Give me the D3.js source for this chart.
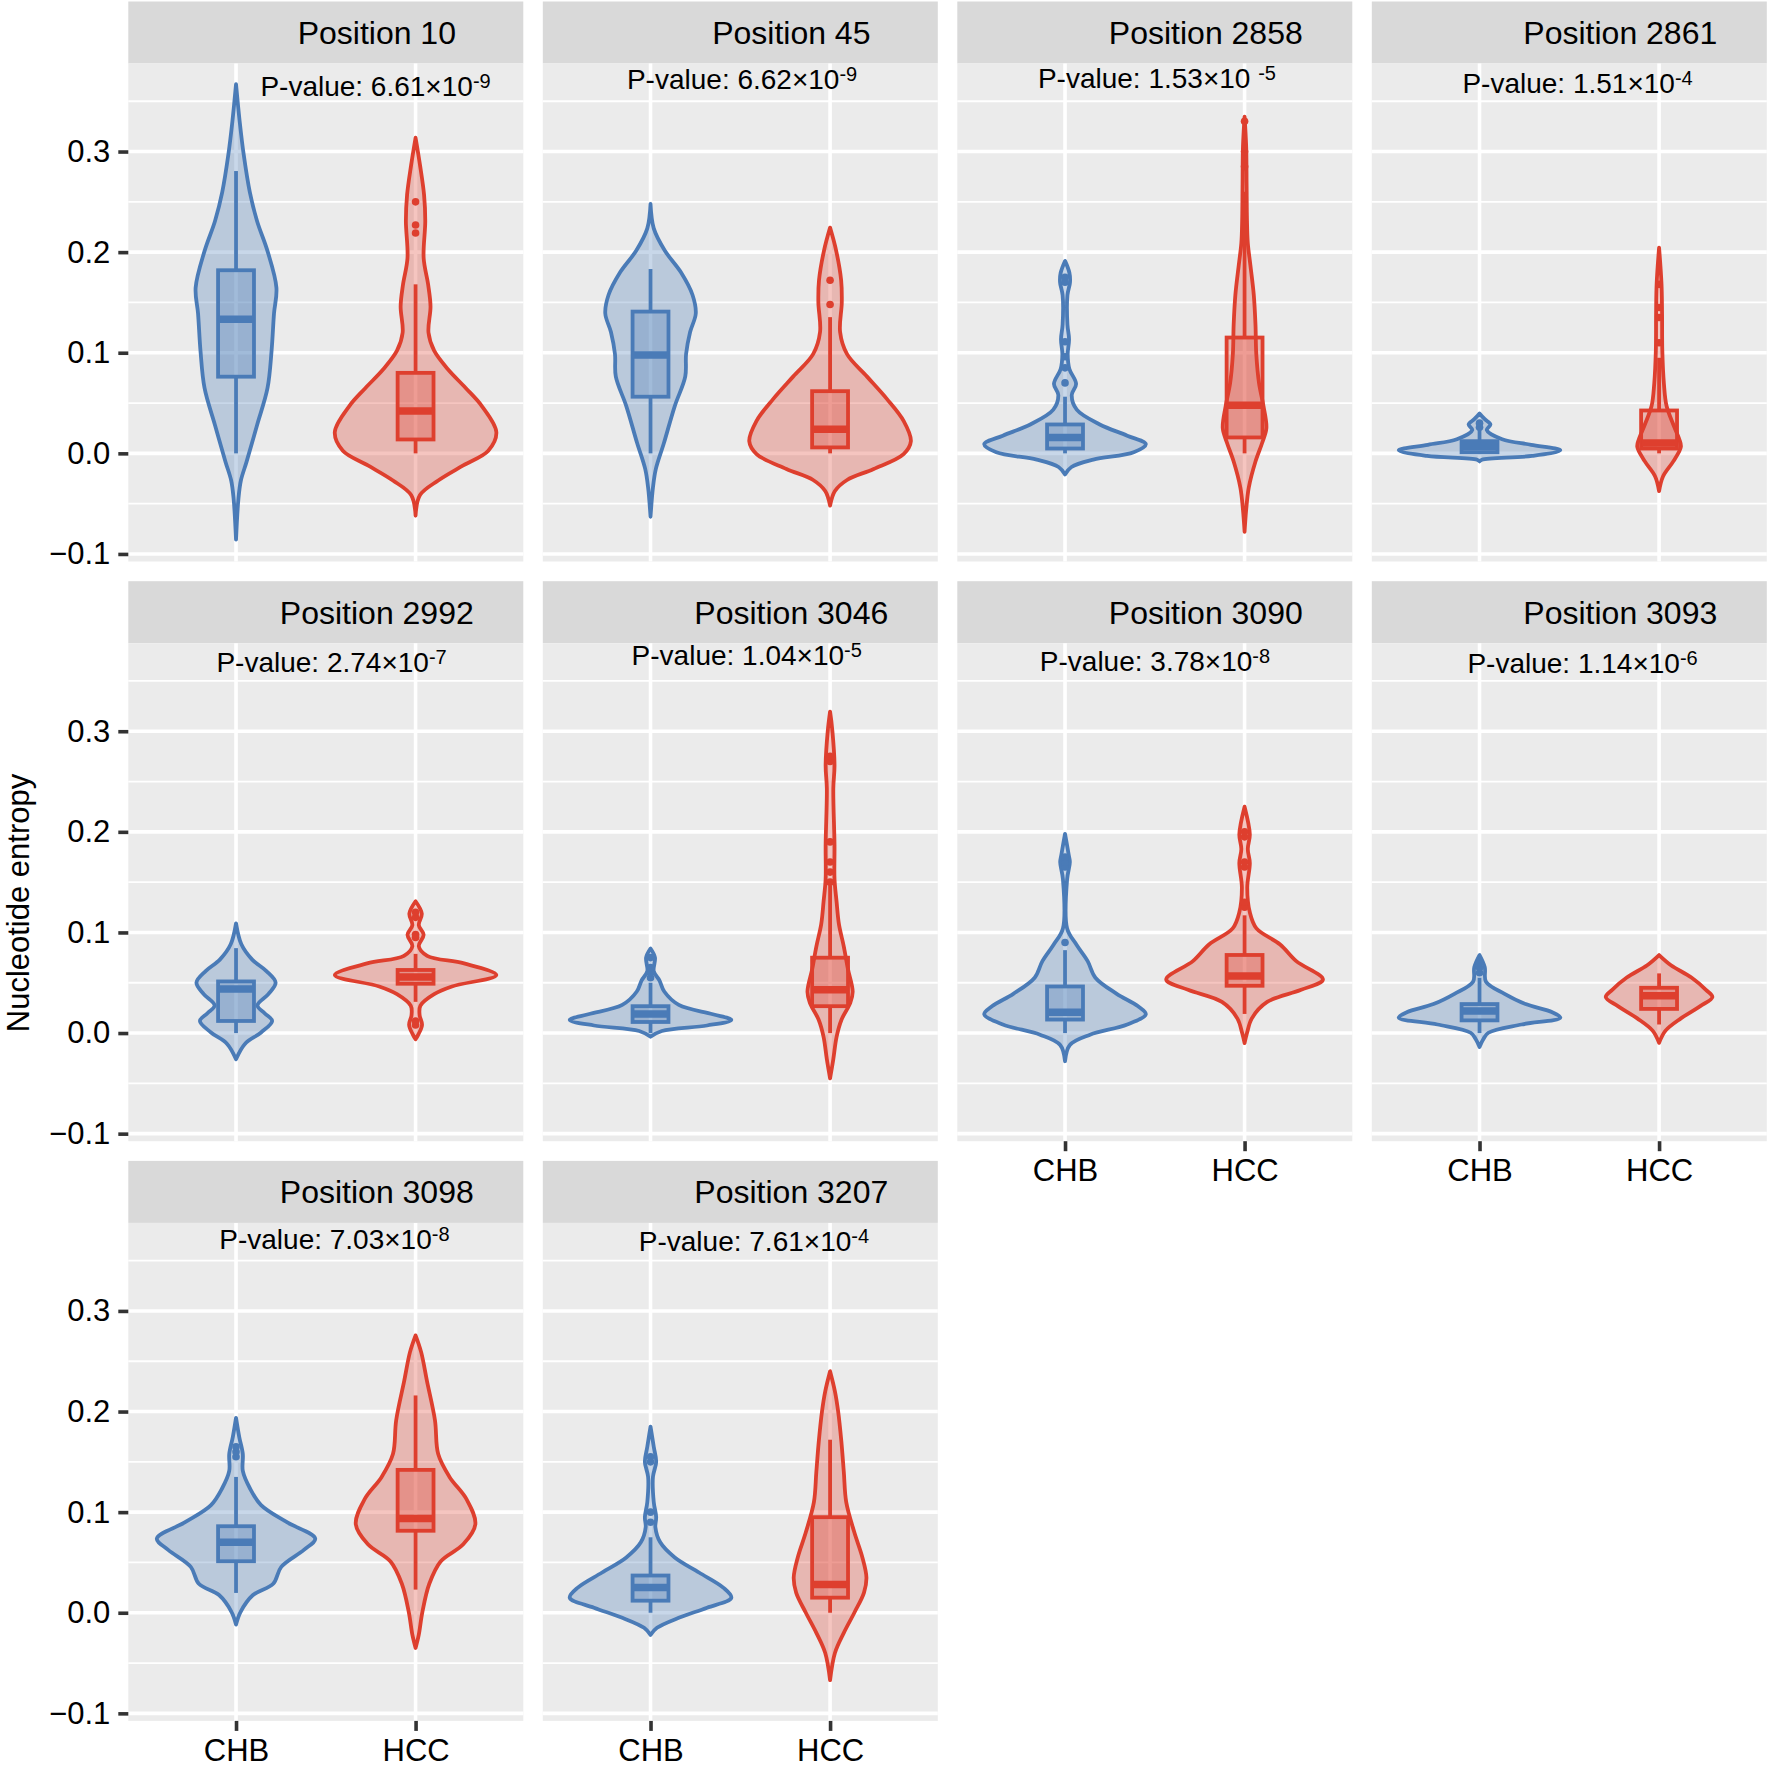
<!DOCTYPE html>
<html>
<head>
<meta charset="utf-8">
<script src="https://cdn.jsdelivr.net/npm/d3@7"></script>
<style>
body { margin: 0; background: #fff; }
svg { display: block; }
text { font-family: "Liberation Sans", Arial, Helvetica, sans-serif; fill: #000; }
</style>
</head>
<body>
<div id="chart"></div>
<script>
// facet labels and the annotated p-values
var positions = ["Position 10", "Position 45", "Position 2858", "Position 2861", "Position 2992",
                 "Position 3046", "Position 3090", "Position 3093", "Position 3098", "Position 3207"];
var pMantissa = ["6.61×10", "6.62×10", "1.53×10 ", "1.51×10", "2.74×10",
                 "1.04×10", "3.78×10", "1.14×10", "7.03×10", "7.61×10"];
var pExponent = ["-9", "-9", "-5", "-4", "-7", "-5", "-8", "-6", "-8", "-4"];
// where each p-value label sits, in data units (x: 1 = CHB, 2 = HCC)
var pLabelX = [1.777, 1.51, 1.512, 1.546, 1.532, 1.536, 1.501, 1.574, 1.548, 1.576];
var pLabelY = [0.355, 0.362, 0.3635, 0.358, 0.3586, 0.3655, 0.360, 0.358, 0.362, 0.360];

var groups = ["CHB", "HCC"];
var yMajor = [-0.1, 0, 0.1, 0.2, 0.3];
var yMinor = [-0.05, 0.05, 0.15, 0.25, 0.35];

// violin outlines: [entropy, relative half width]
var violinCHB = [
  [[-0.0857,0],[-0.045,0.03],[-0.027,0.06],[-0.0085,0.13],[0.028,0.26],[0.065,0.39],[0.102,0.44],[0.139,0.47],[0.1646,0.50],[0.201,0.39],[0.231,0.26],[0.260,0.17],[0.297,0.095],[0.330,0.045],[0.367,0]],
  [[-0.063,0],[-0.034,0.03],[-0.0155,0.066],[0.0103,0.166],[0.047,0.30],[0.0765,0.43],[0.0986,0.44],[0.1206,0.49],[0.139,0.56],[0.1574,0.52],[0.1795,0.38],[0.2016,0.176],[0.2236,0.04],[0.248,0]],
  [[-0.021,0],[-0.0136,0.08],[-0.0063,0.35],[0.0011,0.85],[0.0092,1.0],[0.0176,0.77],[0.0287,0.43],[0.0434,0.145],[0.058,0.083],[0.0691,0.137],[0.0839,0.054],[0.0986,0.033],[0.1133,0.05],[0.128,0.03],[0.1574,0.03],[0.1703,0.062],[0.1795,0.054],[0.1913,0]],
  [[-0.008,0],[-0.0063,0.03],[-0.0026,0.65],[0.003,1.0],[0.0085,0.64],[0.014,0.28],[0.0232,0.09],[0.0287,0.135],[0.0342,0.062],[0.0397,0]],
  [[-0.026,0],[-0.0108,0.11],[0.0006,0.31],[0.012,0.447],[0.0197,0.354],[0.0273,0.265],[0.0387,0.40],[0.0501,0.49],[0.0616,0.376],[0.073,0.2],[0.0882,0.066],[0.109,0]],
  [[-0.0037,0],[0.002,0.14],[0.0075,0.7],[0.013,1.0],[0.0187,0.77],[0.028,0.35],[0.0413,0.17],[0.0524,0.11],[0.0614,0.04],[0.075,0.055],[0.084,0]],
  [[-0.028,0],[-0.0118,0.06],[-0.0016,0.31],[0.0085,0.77],[0.0187,1.0],[0.0268,0.90],[0.039,0.64],[0.055,0.376],[0.0715,0.28],[0.088,0.14],[0.104,0.026],[0.153,0.026],[0.170,0.06],[0.177,0.046],[0.198,0]],
  [[-0.0138,0],[-0.0057,0.05],[0.0003,0.11],[0.0085,0.52],[0.0154,1.0],[0.0207,0.90],[0.0288,0.57],[0.039,0.31],[0.051,0.08],[0.0654,0.065],[0.0775,0]],
  [[-0.0118,0],[0.0007,0.055],[0.0176,0.21],[0.0288,0.46],[0.0456,0.56],[0.0625,0.84],[0.0737,0.98],[0.090,0.63],[0.107,0.31],[0.124,0.17],[0.141,0.084],[0.1578,0.084],[0.1746,0.04],[0.1937,0]],
  [[-0.022,0],[-0.015,0.08],[-0.005,0.35],[0.005,0.7],[0.015,1.0],[0.025,0.9],[0.04,0.6],[0.055,0.3],[0.07,0.12],[0.085,0.06],[0.095,0.07],[0.11,0.04],[0.135,0.03],[0.15,0.07],[0.165,0.04],[0.185,0]]
];
var violinHCC = [
  [[-0.062,0],[-0.0415,0.055],[-0.027,0.28],[-0.012,0.59],[0.0026,0.9],[0.021,1.0],[0.047,0.82],[0.065,0.62],[0.0836,0.40],[0.102,0.23],[0.120,0.16],[0.146,0.185],[0.168,0.155],[0.194,0.10],[0.231,0.12],[0.257,0.105],[0.286,0.056],[0.3137,0]],
  [[-0.052,0],[-0.0375,0.06],[-0.0265,0.21],[-0.0155,0.54],[-0.0007,0.91],[0.012,1.0],[0.0323,0.91],[0.0544,0.70],[0.0765,0.455],[0.0986,0.21],[0.1206,0.124],[0.150,0.145],[0.172,0.137],[0.2016,0.075],[0.2244,0]],
  [[-0.078,0],[-0.0559,0.02],[-0.034,0.052],[-0.0081,0.135],[0.0103,0.217],[0.025,0.27],[0.047,0.234],[0.0691,0.18],[0.0986,0.145],[0.128,0.135],[0.1574,0.114],[0.187,0.072],[0.209,0.04],[0.231,0.03],[0.2678,0.025],[0.3046,0.02],[0.3347,0]],
  [[-0.0375,0],[-0.0228,0.05],[-0.008,0.176],[0.0066,0.27],[0.014,0.25],[0.0287,0.176],[0.047,0.093],[0.0691,0.06],[0.1022,0.04],[0.139,0.037],[0.1685,0.03],[0.2045,0]],
  [[-0.0062,0],[-0.0013,0.035],[0.0082,0.08],[0.0178,0.05],[0.0273,0.06],[0.0387,0.23],[0.0463,0.45],[0.0577,1.0],[0.0692,0.6],[0.0768,0.144],[0.0863,0.04],[0.0977,0.1],[0.1072,0.04],[0.1187,0.077],[0.131,0]],
  [[-0.045,0],[-0.026,0.04],[-0.004,0.08],[0.013,0.14],[0.030,0.25],[0.041,0.28],[0.064,0.22],[0.086,0.17],[0.108,0.11],[0.131,0.08],[0.153,0.055],[0.187,0.055],[0.243,0.04],[0.266,0.055],[0.299,0.03],[0.3195,0]],
  [[-0.01,0],[0.0,0.03],[0.0146,0.09],[0.0309,0.28],[0.043,0.70],[0.0532,0.97],[0.0715,0.64],[0.088,0.44],[0.104,0.147],[0.120,0.065],[0.1446,0.033],[0.169,0.065],[0.183,0.04],[0.1974,0.065],[0.225,0]],
  [[-0.0098,0],[0.0024,0.08],[0.0146,0.27],[0.0268,0.51],[0.0357,0.66],[0.043,0.58],[0.0552,0.40],[0.0674,0.147],[0.0775,0]],
  [[-0.035,0],[-0.0218,0.04],[0.0007,0.084],[0.0288,0.17],[0.051,0.31],[0.068,0.59],[0.088,0.74],[0.1129,0.63],[0.135,0.42],[0.1577,0.28],[0.1914,0.24],[0.2307,0.14],[0.2588,0.07],[0.2757,0]],
  [[-0.067,0],[-0.04,0.06],[-0.02,0.17],[0.0,0.3],[0.02,0.42],[0.035,0.45],[0.055,0.4],[0.08,0.3],[0.11,0.2],[0.14,0.17],[0.17,0.14],[0.2,0.1],[0.22,0.06],[0.24,0]]
];

// boxplot stats: [lower whisker, q1, median, q3, upper whisker]
var boxCHB = [
  [0.0, 0.0762, 0.1333, 0.182, 0.2806],
  [0.0, 0.0563, 0.0978, 0.1409, 0.1832],
  [0.0, 0.0048, 0.0158, 0.0287, 0.0563],
  [0.0, 0.0011, 0.0066, 0.0121, 0.0232],
  [0.0, 0.012, 0.0437, 0.0513, 0.0844],
  [0.0, 0.011, 0.019, 0.0267, 0.05],
  [0.0, 0.0134, 0.0207, 0.0463, 0.0824],
  [0.0, 0.0126, 0.022, 0.0288, 0.055],
  [0.0197, 0.0512, 0.070, 0.086, 0.135],
  [0.0, 0.012, 0.025, 0.037, 0.075]
];
var boxHCC = [
  [0.0, 0.0138, 0.042, 0.080, 0.168],
  [0.0, 0.0059, 0.0239, 0.0618, 0.1354],
  [0.0, 0.0158, 0.0478, 0.1151, 0.26],
  [0.0, 0.0048, 0.0103, 0.0426, 0.095],
  [0.031, 0.049, 0.0558, 0.0627, 0.0787],
  [0.0, 0.0267, 0.043, 0.0749, 0.147],
  [0.019, 0.047, 0.0567, 0.0776, 0.117],
  [0.0085, 0.024, 0.037, 0.045, 0.0593],
  [0.023, 0.0815, 0.0938, 0.142, 0.216],
  [0.0, 0.015, 0.028, 0.095, 0.172]
];
var outliersCHB = [[], [], [0.070, 0.085, 0.096, 0.111, 0.17, 0.175], [0.026, 0.03], [],
  [0.055, 0.06, 0.065, 0.075], [0.09, 0.165, 0.17, 0.175], [0.06, 0.065, 0.07], [0.155, 0.16, 0.165], [0.09, 0.1, 0.15, 0.155]];
var outliersHCC = [[0.250, 0.227, 0.219], [0.172, 0.148], [0.285, 0.30, 0.33], [0.11, 0.135, 0.145, 0.168],
  [0.008, 0.012, 0.095, 0.098, 0.115, 0.12], [0.15, 0.16, 0.17, 0.19, 0.27, 0.275],
  [0.125, 0.13, 0.165, 0.17, 0.195, 0.2], [], [], []];

var colours = { CHB: "#4A7BB7", HCC: "#DE3F2E" };

var width = 1768, height = 1768;
var margin = { left: 128.3, top: 1.5 };
var panelW = 395, gapX = 19.5, stripH = 62, panelH = 498, rowStep = 579.7;

var svg = d3.select("#chart").append("svg")
    .attr("width", width)
    .attr("height", height);

var x = d3.scalePoint().domain(groups).range([0, panelW]).padding(0.6);
var xLin = d3.scaleLinear().domain([0.4, 2.6]).range([0, panelW]);
var y = d3.scaleLinear().domain([-0.1075, 0.3875]).range([panelH, 0]);
var halfW = d3.scaleLinear().domain([0, 1]).range([0, x.step() * 0.45]);
var boxW = x.step() * 0.2;

var violinArea = d3.area()
    .curve(d3.curveCatmullRom.alpha(0.5));

var yAxis = d3.axisLeft(y).tickValues(yMajor).tickSize(10).tickPadding(8).tickFormat(d3.format(".1f"));
var xAxis = d3.axisBottom(x).tickSize(10).tickPadding(8);

positions.forEach(function(label, i) {
    var row = Math.floor(i / 4), col = i % 4;
    var px = margin.left + col * (panelW + gapX);
    var py = margin.top + row * rowStep;

    var g = svg.append("g").attr("transform", `translate(${px},${py})`);

    // strip
    g.append("rect")
        .attr("width", panelW).attr("height", stripH)
        .attr("fill", "#D9D9D9");
    g.append("text")
        .attr("x", panelW / 2 + 51).attr("y", stripH / 2)
        .attr("dy", "0.36em")
        .attr("text-anchor", "middle")
        .style("font-size", "32px")
        .text(label);

    var p = g.append("g").attr("transform", `translate(0,${stripH})`);
    p.append("rect").attr("width", panelW).attr("height", panelH).attr("fill", "#EBEBEB");

    p.selectAll("line.minor").data(yMinor).enter().append("line")
        .attr("x1", 0).attr("x2", panelW)
        .attr("y1", d => y(d)).attr("y2", d => y(d))
        .attr("stroke", "#fff").attr("stroke-width", 1.8);
    p.selectAll("line.majorY").data(yMajor).enter().append("line")
        .attr("x1", 0).attr("x2", panelW)
        .attr("y1", d => y(d)).attr("y2", d => y(d))
        .attr("stroke", "#fff").attr("stroke-width", 3.6);
    p.selectAll("line.majorX").data(groups).enter().append("line")
        .attr("x1", d => x(d)).attr("x2", d => x(d))
        .attr("y1", 0).attr("y2", panelH)
        .attr("stroke", "#fff").attr("stroke-width", 3.6);

    // p-value annotation
    var t = p.append("text")
        .attr("x", xLin(pLabelX[i])).attr("y", y(pLabelY[i]))
        .attr("text-anchor", "middle")
        .style("font-size", "28px")
        .style("white-space", "pre");
    t.append("tspan").text("P-value: " + pMantissa[i]);
    t.append("tspan").attr("dy", -8).style("font-size", "20px").text(pExponent[i]);

    var series = [
        { key: "CHB", violin: violinCHB[i], box: boxCHB[i], out: outliersCHB[i] },
        { key: "HCC", violin: violinHCC[i], box: boxHCC[i], out: outliersHCC[i] }
    ];

    series.forEach(function(s) {
        var cx = x(s.key), col = colours[s.key];
        violinArea
            .y(d => y(d[0]))
            .x0(d => cx - halfW(d[1]))
            .x1(d => cx + halfW(d[1]));
        p.append("path")
            .datum(s.violin)
            .attr("d", violinArea)
            .attr("fill", col).attr("fill-opacity", 0.3)
            .attr("stroke", col).attr("stroke-width", 3.8)
            .attr("stroke-linejoin", "round");

        var b = s.box;
        p.append("line")
            .attr("x1", cx).attr("x2", cx)
            .attr("y1", y(b[3])).attr("y2", y(b[4]))
            .attr("stroke", col).attr("stroke-width", 3.8);
        p.append("line")
            .attr("x1", cx).attr("x2", cx)
            .attr("y1", y(b[1])).attr("y2", y(b[0]))
            .attr("stroke", col).attr("stroke-width", 3.8);
        p.append("rect")
            .attr("x", cx - boxW / 2).attr("width", boxW)
            .attr("y", y(b[3])).attr("height", y(b[1]) - y(b[3]))
            .attr("fill", col).attr("fill-opacity", 0.3)
            .attr("stroke", col).attr("stroke-width", 3.8);
        p.append("line")
            .attr("x1", cx - boxW / 2).attr("x2", cx + boxW / 2)
            .attr("y1", y(b[2])).attr("y2", y(b[2]))
            .attr("stroke", col).attr("stroke-width", 7.5);

        p.selectAll(null).data(s.out).enter().append("circle")
            .attr("cx", cx).attr("cy", d => y(d)).attr("r", 3.8)
            .attr("fill", col);
    });

    if (col === 0) {
        var ya = p.append("g").call(yAxis);
        ya.select(".domain").remove();
        ya.selectAll(".tick line").attr("stroke", "#333").attr("stroke-width", 3.6);
        ya.selectAll(".tick text").style("font-size", "31px").attr("fill", "#000");
    }
    // x axis only under the lowest panel of each column
    if (i + 4 >= positions.length) {
        var xa = p.append("g").attr("transform", `translate(0,${panelH})`).call(xAxis);
        xa.select(".domain").remove();
        xa.selectAll(".tick line").attr("stroke", "#333").attr("stroke-width", 3.6);
        xa.selectAll(".tick text").style("font-size", "31px").attr("fill", "#000");
    }
});

svg.append("text")
    .attr("transform", "translate(29,903) rotate(-90)")
    .attr("text-anchor", "middle")
    .style("font-size", "31px")
    .text("Nucleotide entropy");
</script>
</body>
</html>
